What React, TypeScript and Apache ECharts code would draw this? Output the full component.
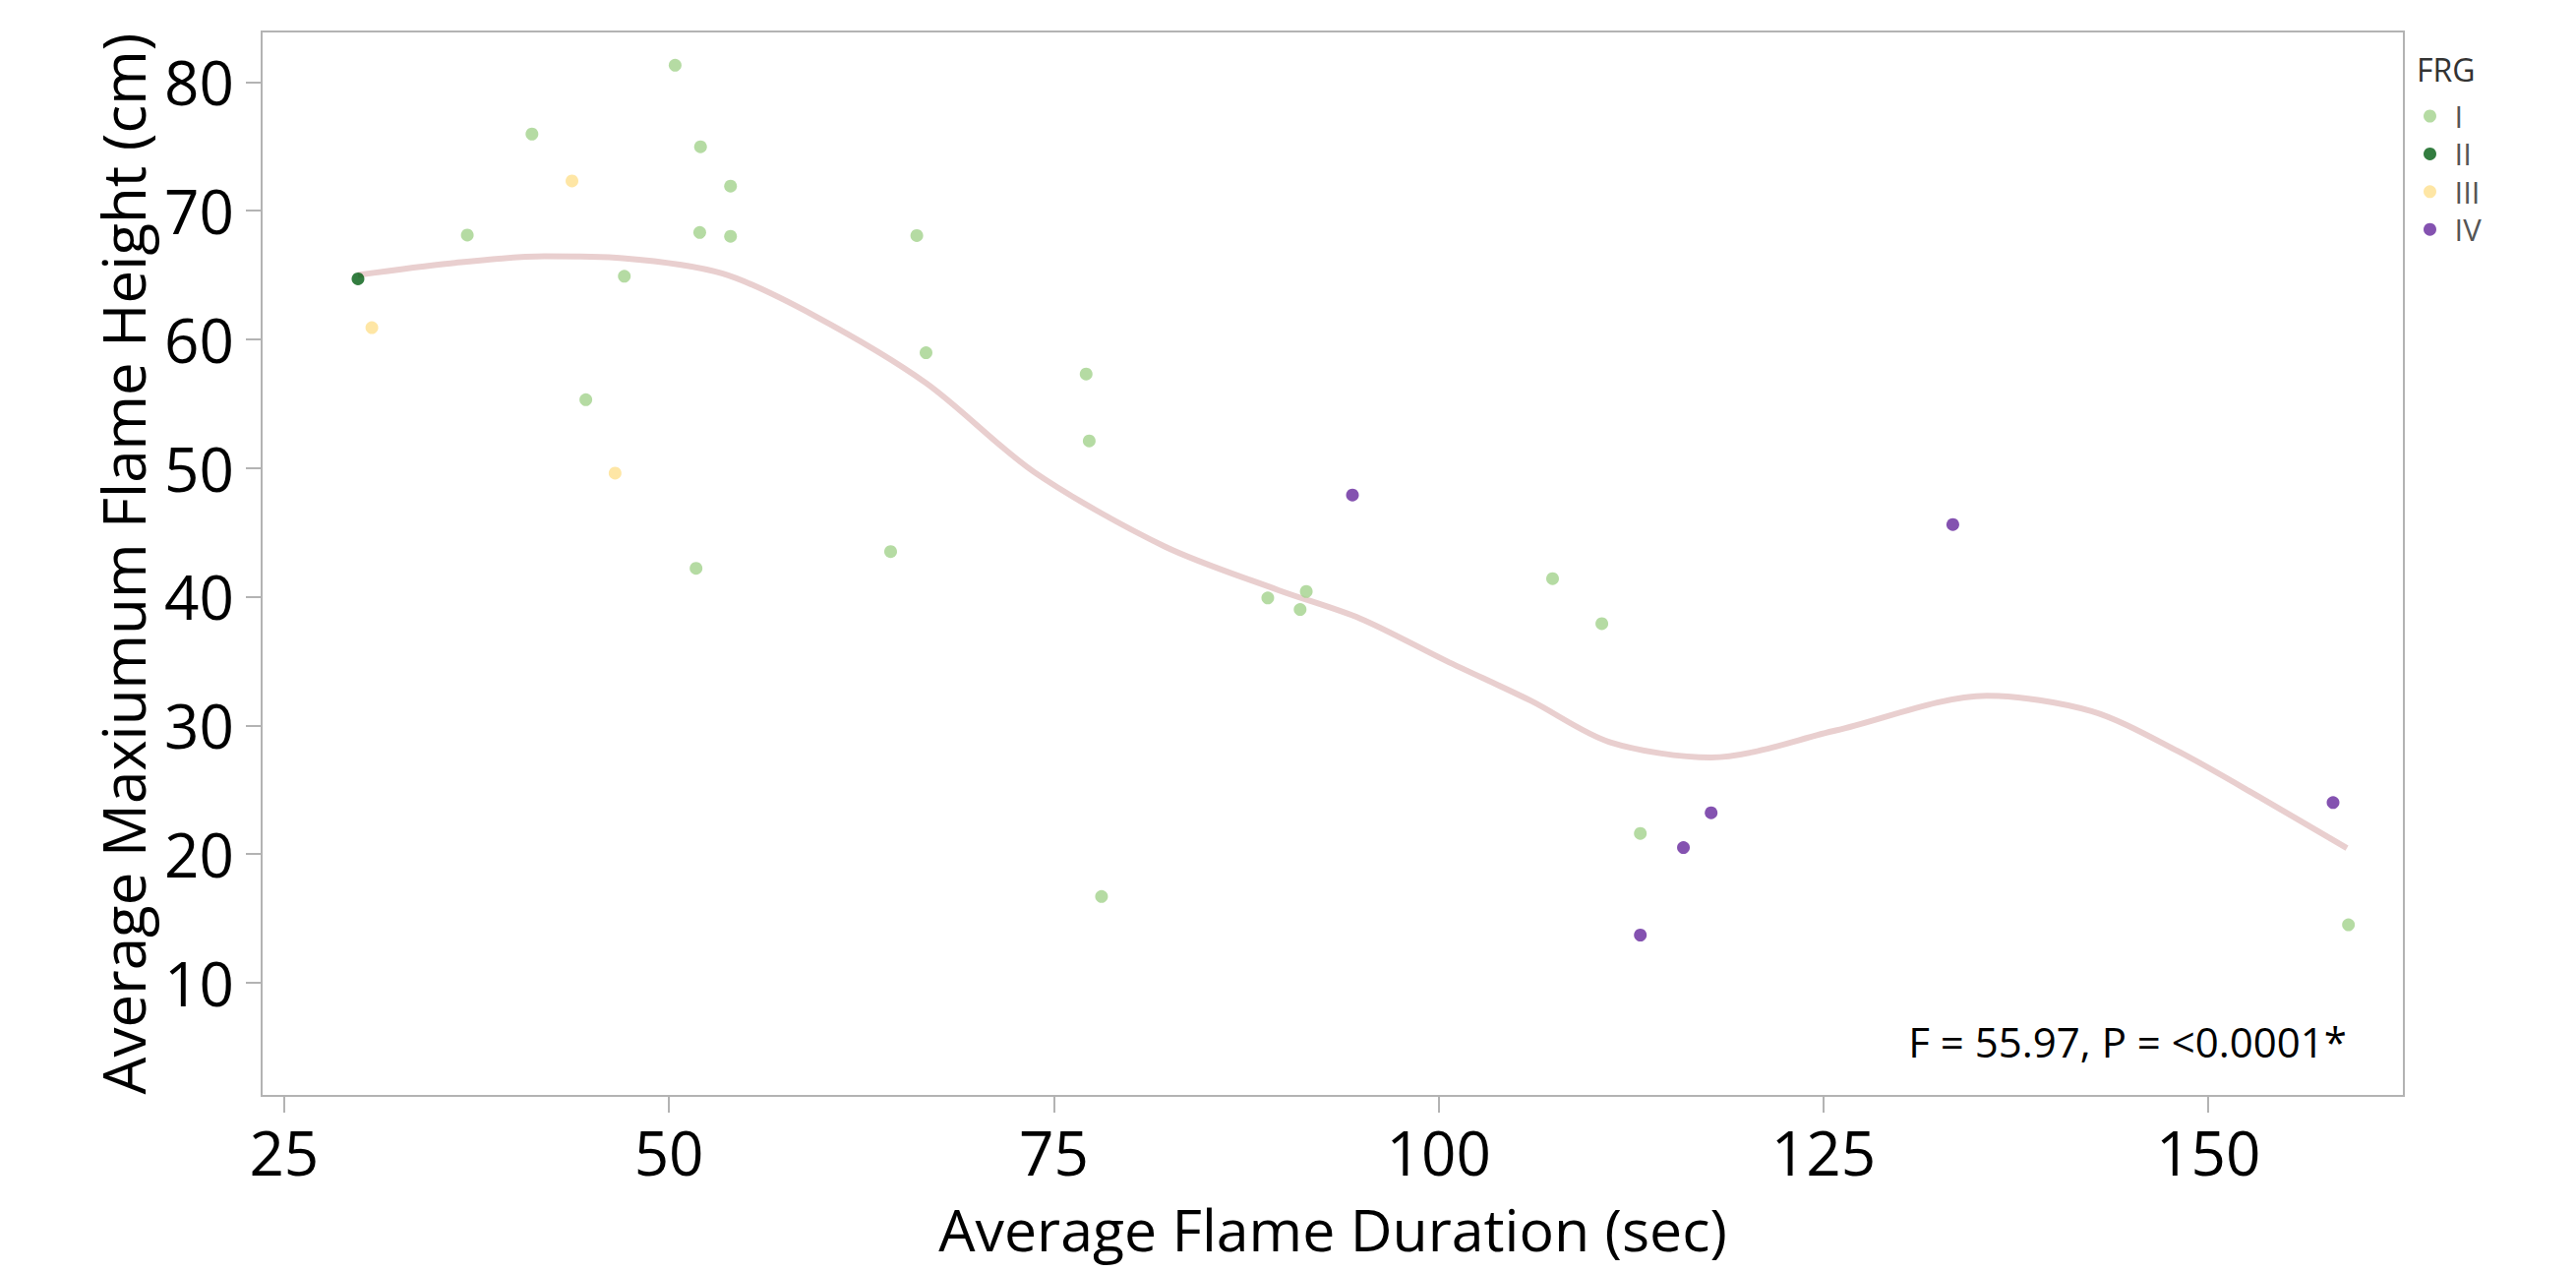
import React, { useEffect, useRef } from "react";
import * as echarts from "echarts";

// ---- Data ----
const xTicks = [25, 50, 75, 100, 125, 150];
const yTicks = [10, 20, 30, 40, 50, 60, 70, 80];

const groupNames = ["I", "II", "III", "IV"];
const groupColors = ["#a3d28c", "#005c10", "#fee08e", "#65279c"];

const iX = [50.4, 41.1, 52.05, 54.0, 36.9, 52.0, 54.0, 66.1, 47.1, 66.7, 44.6, 77.1, 77.3, 51.76, 64.4, 88.9, 91.4, 91.0, 107.4, 110.6, 78.1, 113.1, 159.1];
const iY = [81.3, 75.95, 74.96, 71.9, 68.1, 68.3, 68.0, 68.06, 64.9, 58.95, 55.3, 57.3, 52.1, 42.2, 43.5, 39.9, 40.4, 39.0, 41.4, 37.9, 16.7, 21.6, 14.5];

const iiX = [29.8];
const iiY = [64.7];

const iiiX = [43.7, 30.7, 46.5];
const iiiY = [72.3, 60.9, 49.6];

const ivX = [94.4, 133.4, 115.9, 117.7, 113.1, 158.1];
const ivY = [47.9, 45.6, 20.5, 23.2, 13.7, 24.0];

const fitX = [29.8, 35.8, 41.9, 47.0, 53.5, 59.5, 66.7, 73.7, 82.2, 89.6, 94.9, 100.5, 106.0, 111.1, 117.7, 125.8, 135.6, 142.4, 148.0, 153.5, 159.0];
const fitY = [65.0, 65.9, 66.45, 66.3, 65.1, 61.8, 56.6, 49.7, 43.9, 40.5, 38.3, 35.0, 31.9, 28.7, 27.5, 29.6, 32.3, 31.1, 28.0, 24.3, 20.45];

const annotation = "F = 55.97, P = <0.0001*";
const legendTitle = "FRG";
const xName = "Average Flame Duration (sec)";
const yName = "Average Maxiumum Flame Height (cm)";

const zip = (xs: number[], ys: number[]) => xs.map((x, i) => [x, ys[i]]);

export default function App() {
  const ref = useRef<HTMLDivElement>(null);

  useEffect(() => {
    if (!ref.current) return;
    const chart = echarts.init(ref.current, undefined, { renderer: "svg" });
    const font = "'Open Sans', 'Noto Sans', sans-serif";
    const axisColor = "#b3b3b3";
    const groups = [zip(iX, iY), zip(iiX, iiY), zip(iiiX, iiiY), zip(ivX, ivY)];

    chart.setOption({
      animation: false,
      backgroundColor: "#ffffff",
      textStyle: { fontFamily: font },
      grid: {
        left: 266,
        top: 32,
        right: 175,
        bottom: 179,
        show: true,
        borderColor: axisColor,
        borderWidth: 2,
        containLabel: false,
        outerBoundsMode: "none",
      },
      legend: {
        data: groupNames,
        orient: "vertical",
        left: 2459,
        top: 97,
        itemWidth: 40,
        itemHeight: 13,
        itemGap: 6.4,
        icon: "circle",
        textStyle: { fontSize: 31, lineHeight: 32, color: "#555555", fontFamily: font },
        selectedMode: false,
      },
      xAxis: {
        type: "value",
        min: 23.54,
        max: 162.7,
        name: xName,
        nameLocation: "middle",
        nameGap: 106,
        nameTextStyle: { fontSize: 59, lineHeight: 58, color: "#000", fontFamily: font },
        axisLine: { show: true, lineStyle: { color: axisColor, width: 2 } },
        axisTick: { show: true, length: 17, customValues: xTicks, lineStyle: { color: axisColor, width: 2 } },
        axisLabel: { customValues: xTicks, fontSize: 62, color: "#000", margin: 26, fontFamily: font },
        splitLine: { show: false },
      },
      yAxis: {
        type: "value",
        min: 1.2,
        max: 83.92,
        name: yName,
        nameLocation: "middle",
        nameGap: 111,
        nameTextStyle: { fontSize: 60, color: "#000", fontFamily: font },
        axisLine: { show: true, lineStyle: { color: axisColor, width: 2 } },
        axisTick: { show: true, length: 16, customValues: yTicks, lineStyle: { color: axisColor, width: 2 } },
        axisLabel: { customValues: yTicks, fontSize: 62, color: "#000", margin: 28, fontFamily: font },
        splitLine: { show: false },
      },
      graphic: [
        {
          type: "text",
          x: 2457,
          y: 70,
          style: { text: legendTitle, fontSize: 32, fill: "#333", fontFamily: font, verticalAlign: "middle", align: "left" },
        },
        {
          type: "text",
          x: 2386,
          y: 1058,
          style: { text: annotation, fontSize: 42, fill: "#000", fontFamily: font, verticalAlign: "middle", align: "right" },
        },
      ],
      series: [
        {
          type: "line",
          name: "fit",
          data: zip(fitX, fitY),
          smooth: 0.3,
          showSymbol: false,
          symbol: "none",
          z: 1,
          lineStyle: { color: "#e9cfcf", width: 6 },
          silent: true,
        },
        ...groups.map((d, i) => ({
          type: "scatter",
          name: groupNames[i],
          data: d,
          symbol: "circle",
          symbolSize: 13,
          z: 3,
          itemStyle: { color: groupColors[i] },
        })),
      ],
    });

    return () => chart.dispose();
  }, []);

  return (
    <div
      ref={ref}
      style={{ position: "fixed", left: 0, top: 0, width: "2619px", height: "1293px" }}
    />
  );
}
